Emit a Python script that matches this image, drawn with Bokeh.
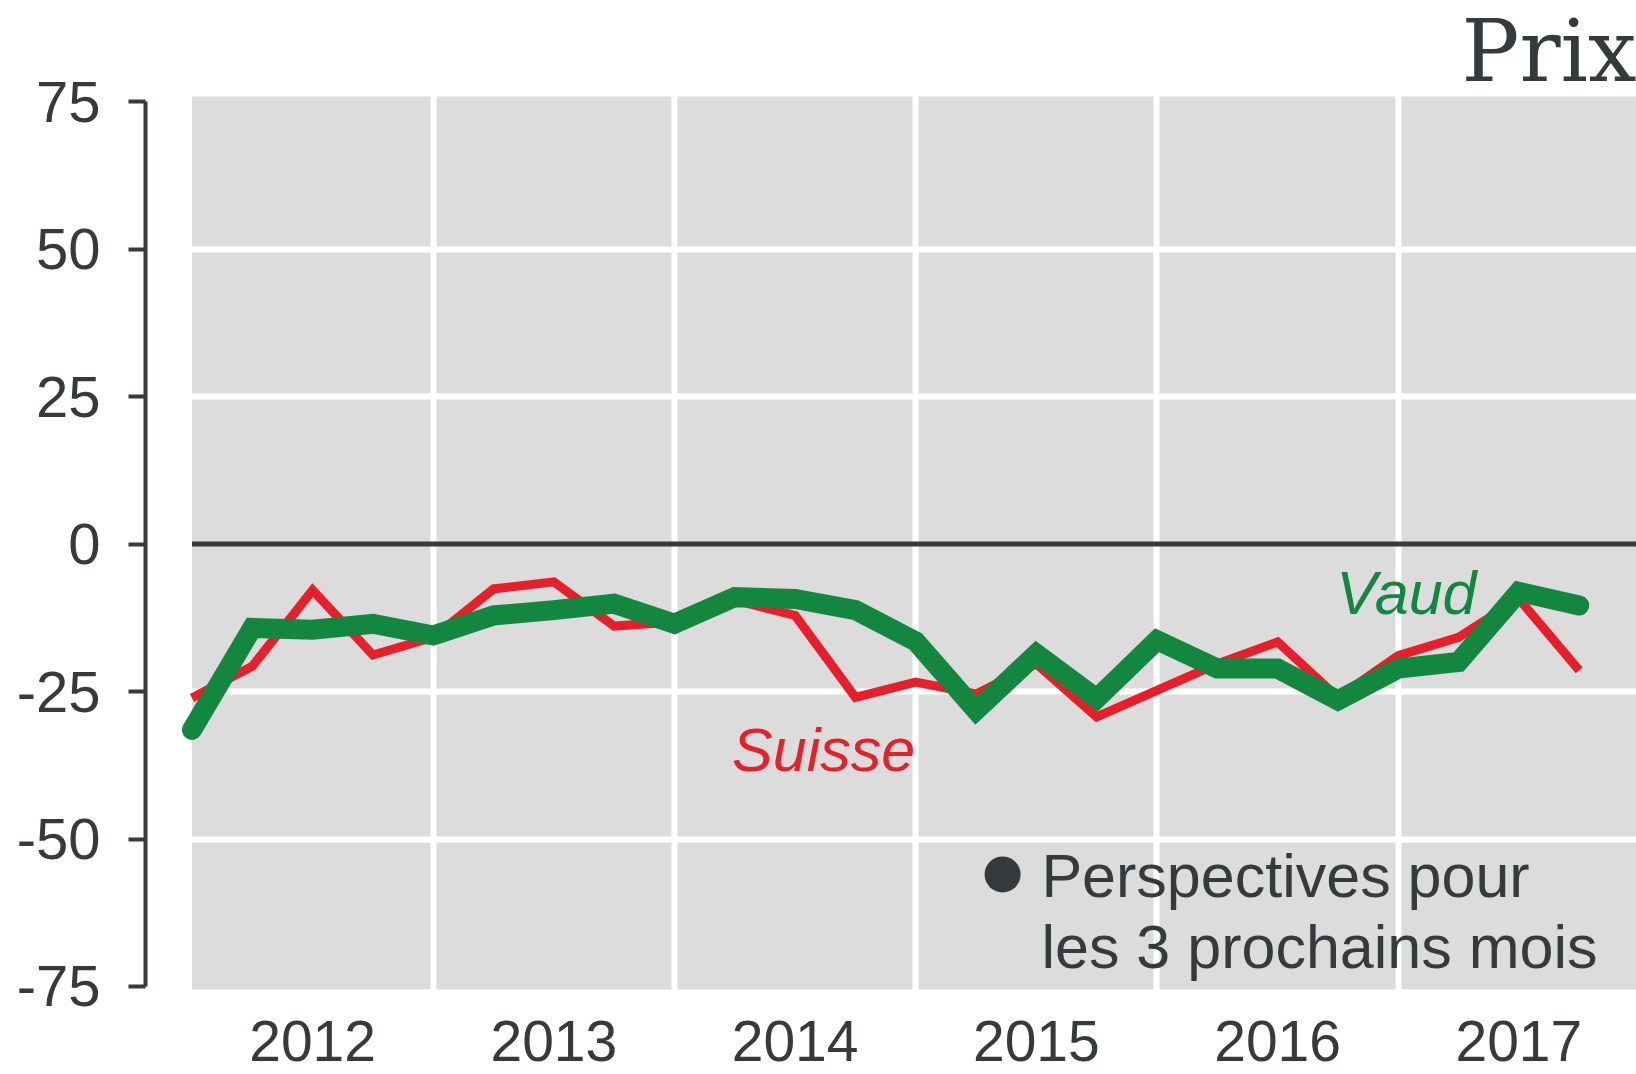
from bokeh.plotting import figure
from bokeh.models import Range1d, FixedTicker, Label, ColumnDataSource
from bokeh.embed import file_html
from bokeh.resources import INLINE
from bokeh.core.properties import value

# ---- data (quarterly survey balances, %) ----
years = [2012, 2012, 2012, 2012, 2013, 2013, 2013, 2013, 2014, 2014, 2014, 2014,
         2015, 2015, 2015, 2015, 2016, 2016, 2016, 2016, 2017, 2017, 2017, 2017]
quarter = [1, 2, 3, 4, 1, 2, 3, 4, 1, 2, 3, 4, 1, 2, 3, 4, 1, 2, 3, 4, 1, 2, 3, 4]
vaud = [-31.5, -14.2, -14.5, -13.5, -15.5, -12.1, -11.2, -10.1, -13.5, -9.0, -9.3, -11.2,
        -16.5, -28.2, -18.6, -26.2, -16.3, -21.1, -21.1, -26.5, -21.1, -20.0, -8.1, -10.4]
suisse = [-26.1, -20.7, -7.8, -18.8, -15.8, -7.6, -6.4, -13.9, -13.2, -9.5, -12.1, -26.0,
          -23.4, -25.4, -20.3, -29.3, -24.8, -20.3, -16.6, -26.0, -18.9, -15.8, -9.3, -21.4]
year_labels = ["2012", "2013", "2014", "2015", "2016", "2017"]
y_ticks = [-75, -50, -25, 0, 25, 50, 75]
title_text = "Prix"
series_names = ["Vaud", "Suisse"]
note_lines = ["Perspectives pour", "les 3 prochains mois"]

xs = [y + (q - 1) / 4 for y, q in zip(years, quarter)]
first_year = int(year_labels[0])
last_year = int(year_labels[-1]) + 1

DARK = "#353a3d"
RED = "#e61f2b"
GREEN = "#138640"
GRAY = "#dcdcdc"
FONT = "Liberation Sans"

X0, X1 = 2011.8073, 2017.9876
Y0, Y1 = -89.92, 92.156
PANEL_BOTTOM, PANEL_TOP = -75.5, 75.9

p = figure(width=1636, height=1074, output_backend="svg", toolbar_location=None,
           x_range=Range1d(X0, X1), y_range=Range1d(Y0, Y1),
           x_axis_location=None, min_border=0, min_border_left=145)
p.background_fill_color = "white"
p.border_fill_color = "white"
p.outline_line_color = None

# gray panel behind the grid
p.quad(left=first_year, right=last_year, bottom=PANEL_BOTTOM, top=PANEL_TOP,
       fill_color=GRAY, line_color=None, level="image")

# grids
p.xgrid.ticker = FixedTicker(ticks=[float(y) for y in range(first_year + 1, last_year)])
p.xgrid.grid_line_color = "white"
p.xgrid.grid_line_width = 6
p.ygrid.ticker = FixedTicker(ticks=[t for t in y_ticks if t not in (0, 75, -75)])
p.ygrid.grid_line_color = "white"
p.ygrid.grid_line_width = 6

# zero line
p.segment(x0=first_year, x1=last_year, y0=0, y1=0, line_color=DARK, line_width=5)

# series
p.line(xs, suisse, line_color=RED, line_width=9, line_join="miter", line_cap="butt")
p.line(xs, vaud, line_color=GREEN, line_width=20, line_join="miter", line_cap="round")

# y axis
ya = p.yaxis[0]
ya.ticker = FixedTicker(ticks=y_ticks)
ya.major_label_overrides = {t: str(t) for t in y_ticks}
ya.bounds = (-75, 75)
ya.axis_line_color = DARK
ya.axis_line_width = 4
ya.major_tick_line_color = DARK
ya.major_tick_line_width = 4
ya.major_tick_out = 17
ya.major_tick_in = 0
ya.minor_tick_line_color = None
ya.major_label_text_font = FONT
ya.major_label_text_font_size = "58px"
ya.major_label_text_color = DARK
ya.major_label_standoff = 28

# year labels (centred under each year)
yl = ColumnDataSource(dict(x=[int(y) + 0.5 for y in year_labels],
                           y=[-84.2] * len(year_labels), text=year_labels))
p.text(x="x", y="y", text="text", source=yl, text_color=DARK,
       text_font=value(FONT), text_font_size="57px",
       text_align="center", text_baseline="alphabetic")

# series labels
p.add_layout(Label(x=2014.618, y=-34.9, text=series_names[1], text_color=RED,
                   text_font=FONT, text_font_style="italic",
                   text_font_size="61px", text_align="center", text_baseline="alphabetic"))
p.add_layout(Label(x=2017.034, y=-8.3, text=series_names[0], text_color=GREEN,
                   text_font=FONT, text_font_style="italic",
                   text_font_size="61px", text_align="center", text_baseline="alphabetic"))

# note with bullet
p.scatter(x=[2015.36], y=[-56.0], size=36, marker="circle", fill_color=DARK, line_color=None)
p.add_layout(Label(x=2015.521, y=-56.3, text=note_lines[0], text_color=DARK,
                   text_font=FONT, text_font_size="61px",
                   text_align="left", text_baseline="alphabetic"))
p.add_layout(Label(x=2015.521, y=-68.3, text=note_lines[1], text_color=DARK,
                   text_font=FONT, text_font_size="61px",
                   text_align="left", text_baseline="alphabetic"))

# title (top right)
p.add_layout(Label(x=X1, y=83.6, text=title_text, text_color=DARK,
                   text_font="DejaVu Serif", text_font_size="86px",
                   text_align="right", text_baseline="alphabetic"))

open("out.html", "w").write(file_html(p, INLINE))
